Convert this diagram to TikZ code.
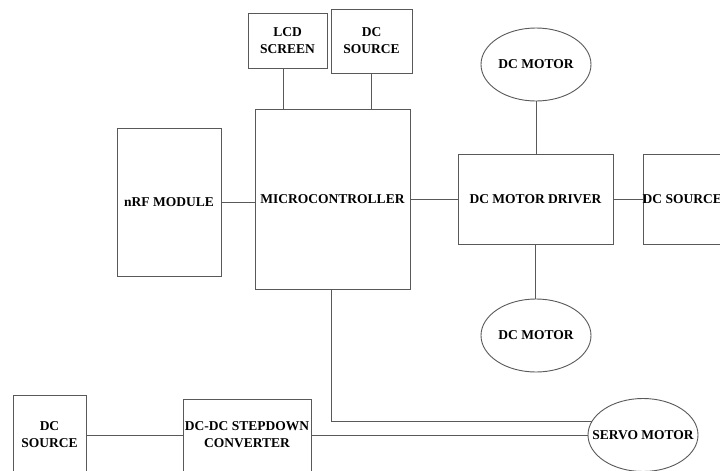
\documentclass[tikz,border=0pt]{standalone}
\usepackage{fontspec}
\setmainfont{Liberation Serif}
\usetikzlibrary{shapes.geometric,calc}
\tikzset{
  txt/.style={font=\fontsize{13.5}{17}\selectfont\bfseries},
  blk/.style={draw=black!65, line width=0.9pt, rectangle, inner sep=0pt, align=center, txt},
  ell/.style={draw=black!65, line width=0.9pt, ellipse, inner sep=0pt,
    minimum width=110pt, minimum height=73pt},
  wire/.style={draw=black!65, line width=0.9pt}
}
\begin{document}
\begin{tikzpicture}[x=1pt,y=-1pt]
\useasboundingbox (0,0) rectangle (720,471);
\fill[white] (0,0) rectangle (720,471);
\clip (0,0) rectangle (720,471);
\node[blk, minimum width=79pt, minimum height=55pt] (lcd) at (287.5,40.5) {LCD\\SCREEN};
\node[blk, minimum width=81pt, minimum height=64pt] (dctop) at (371.5,41) {DC\\SOURCE};
\node[blk, minimum width=155pt, minimum height=180pt] (mcu) at (332.5,199) {MICROCONTROLLER};
\node[blk, minimum width=104pt, minimum height=148pt] (nrf) at (169,202) {nRF MODULE};
\node[blk, minimum width=155pt, minimum height=90pt] (drv) at (535.5,199) {DC MOTOR DRIVER};
\node[blk, minimum width=82pt, minimum height=90pt] (dcr) at (684,199) {};
\node[txt, anchor=west, inner sep=0pt] (dcrt) at (642.5,199) {DC SOURCE};
\node[ell] (mtop) at (536,64.5) {};
\node[txt] (mtopt) at (mtop.center) {DC MOTOR};
\node[ell] (mbot) at (536,335.5) {};
\node[txt] (mbott) at (mbot.center) {DC MOTOR};
\node[ell] (servo) at (643,435) {};
\node[txt] (servot) at (servo.center) {SERVO MOTOR};
\node[blk, minimum width=73pt, minimum height=80pt] (dcl) at (49.5,435) {DC\\SOURCE};
\node[blk, minimum width=128pt, minimum height=72pt] (conv) at (247,435) {DC-DC STEPDOWN\\CONVERTER};
\draw[wire] ([xshift=-4.5pt]lcd.south) -- ([xshift=-4.5pt]lcd.south |- mcu.north);
\draw[wire] (dctop.south) -- (dctop.south |- mcu.north);
\draw[wire] (nrf.east) -- (nrf.east -| mcu.west);
\draw[wire] (mcu.east) -- (drv.west);
\draw[wire] (drv.east) -- (dcr.west);
\draw[wire] (mtop.south) -- (mtop.south |- drv.north);
\draw[wire] (drv.south) -- (drv.south |- mbot.north);
\draw[wire] ([xshift=-1.5pt]mcu.south) |- (servo.165);
\draw[wire] (dcl.east) -- (conv.west);
\draw[wire] (conv.east) -- (servo.west);
\end{tikzpicture}
\end{document}
